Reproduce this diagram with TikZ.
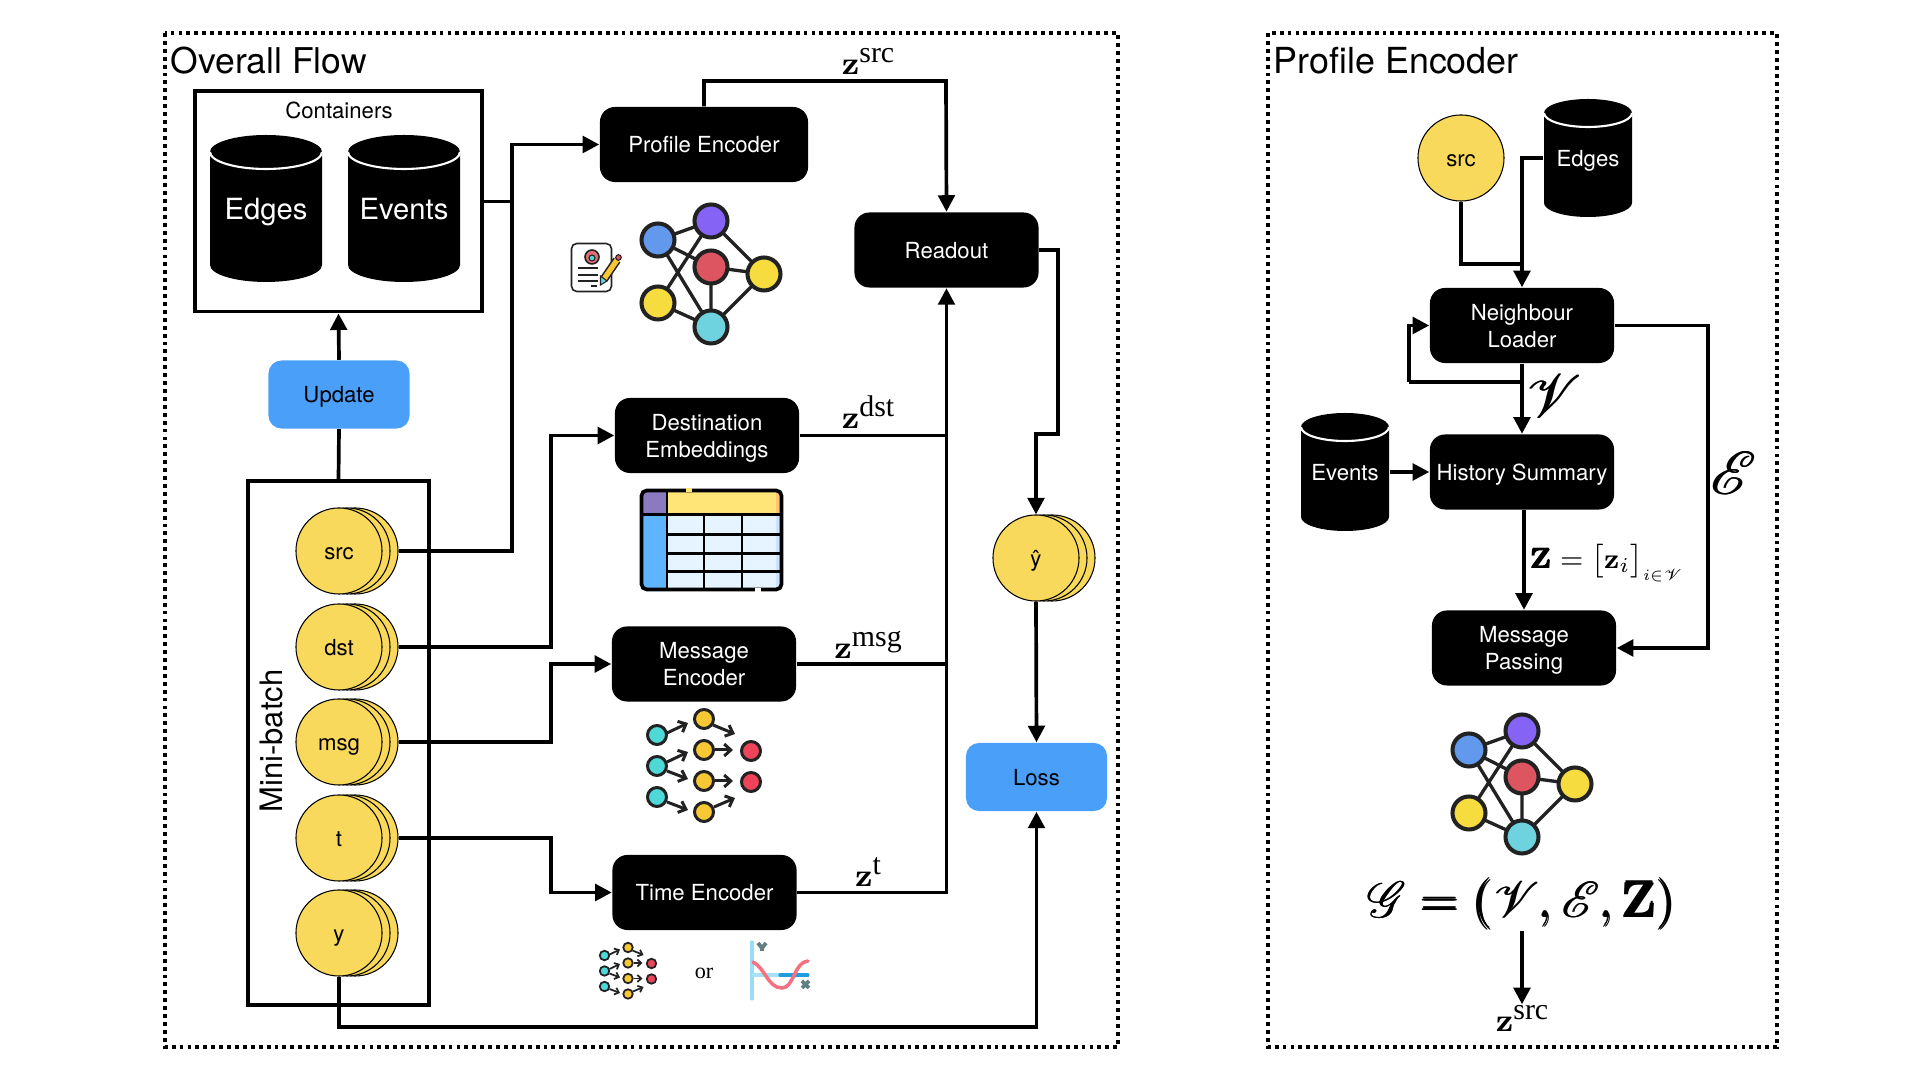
\documentclass[tikz,border=0pt]{standalone}
\usepackage[no-math]{fontspec}
\usepackage{amsmath}
\usepackage{mathrsfs}
\setmainfont{TeX Gyre Heros}
\newfontfamily\timesfont{Liberation Serif}
\usetikzlibrary{arrows.meta}

\definecolor{stackyellow}{HTML}{F9D95C}
\definecolor{panelblue}{HTML}{4A9FF8}
\definecolor{iconink}{HTML}{222222}
\definecolor{netblue}{HTML}{6399EC}
\definecolor{netpurple}{HTML}{8463F5}
\definecolor{netred}{HTML}{DD5560}
\definecolor{netyellow}{HTML}{F6DC3E}
\definecolor{netcyan}{HTML}{6FD3DF}
\definecolor{flowcyan}{HTML}{4FD8D8}
\definecolor{flowyellow}{HTML}{F7C833}
\definecolor{flowred}{HTML}{EE4358}
\definecolor{tablepurple}{HTML}{8A7BC0}
\definecolor{tableyellow}{HTML}{FFE477}
\definecolor{tableorange}{HTML}{FFC66B}
\definecolor{tableblue}{HTML}{5FB4FF}
\definecolor{tablecell}{HTML}{E6F4FF}
\definecolor{tableedge}{HTML}{CBE3FF}

\newcommand{\boxfont}{\fontsize{6.3}{7.7}\selectfont}
\newcommand{\zlabel}[1]{\scalebox{1.15}{$\mathbf{z}$}\raisebox{3.4pt}{\timesfont #1}}
\newcommand{\boldscr}[1]{\mathord{\rlap{$\mathscr{#1}$}\kern.22pt\mathscr{#1}}}

\tikzset{
    arr/.style={line width=1.05pt,-{Triangle[length=4.7pt,width=4.7pt]}},
    link/.style={line width=1.05pt},
    blackbox/.style={fill=black,text=white,rounded corners=.15cm,align=center,font=\boxfont,inner sep=0pt,text depth=0pt,minimum width=1.84cm,minimum height=.75cm},
    bluebox/.style={fill=panelblue,rounded corners=.13cm,font=\boxfont,inner sep=0pt,text depth=0pt,minimum width=1.41cm,minimum height=.68cm},
    tokencircle/.style={circle,draw=black,line width=.3pt,fill=stackyellow,font=\boxfont,inner sep=0pt,text height=4.8pt,text depth=0pt,minimum size=.86cm},
    dotbox/.style={line width=1pt,dash pattern=on 1.1pt off 1.15pt},
    mathlabel/.style={font=\fontsize{8.5}{10}\selectfont,inner sep=0pt},
    scriptlabel/.style={font=\fontsize{17}{20}\selectfont,inner sep=0pt},
    netIcon/.pic={
        \draw[iconink,line width=.95pt] (-53,27) -- (0,46) (-53,27) -- (0,0) (-53,27) -- (0,-60)
            (0,46) -- (-53,-36) (0,46) -- (53,-7) (0,0) -- (53,-7) (0,0) -- (0,-60)
            (-53,-36) -- (0,-60) (53,-7) -- (0,-60);
        \filldraw[draw=iconink,line width=1.15pt,fill=netblue] (-53,27) circle (16.5);
        \filldraw[draw=iconink,line width=1.15pt,fill=netpurple] (0,46) circle (16.5);
        \filldraw[draw=iconink,line width=1.15pt,fill=netred] (0,0) circle (16.5);
        \filldraw[draw=iconink,line width=1.15pt,fill=netyellow] (53,-7) circle (16.5);
        \filldraw[draw=iconink,line width=1.15pt,fill=netyellow] (-53,-36) circle (16.5);
        \filldraw[draw=iconink,line width=1.15pt,fill=netcyan] (0,-60) circle (16.5);
    },
    flowIcon/.pic={
        \foreach \py in {31,0,-31} \filldraw[draw=iconink,fill=flowcyan] (-47,\py) circle (9.5);
        \foreach \py in {47,16,-15,-46} \filldraw[draw=iconink,fill=flowyellow] (0,\py) circle (9.5);
        \foreach \py in {15,-16} \filldraw[draw=iconink,fill=flowred] (47,\py) circle (9.5);
        \draw[iconink,-{Straight Barb[length=0pt 2.2,width=0pt 4]}] (-37,33) -- (-16,43);
        \draw[iconink,-{Straight Barb[length=0pt 2.2,width=0pt 4]}] (-37,4) -- (-16,14);
        \draw[iconink,-{Straight Barb[length=0pt 2.2,width=0pt 4]}] (-37,-5) -- (-16,-13);
        \draw[iconink,-{Straight Barb[length=0pt 2.2,width=0pt 4]}] (-37,-36) -- (-16,-44);
        \draw[iconink,-{Straight Barb[length=0pt 2.2,width=0pt 4]}] (9,41) -- (31,32);
        \draw[iconink,-{Straight Barb[length=0pt 2.2,width=0pt 4]}] (11,16) -- (29,16);
        \draw[iconink,-{Straight Barb[length=0pt 2.2,width=0pt 4]}] (11,-15) -- (29,-15);
        \draw[iconink,-{Straight Barb[length=0pt 2.2,width=0pt 4]}] (10,-41) -- (31,-32);
    }
}

% name, centre x, top y, width, height, lid radius, label
\newcommand{\dbnode}[7]{
    \fill (#2-#4/2,-#3-#6) arc (180:0:#4/2 and #6) -- ++(0,{-#5+2*#6}) arc (0:-180:#4/2 and #6) -- cycle;
    \draw[white,line width=.6pt] (#2-#4/2,-#3-#6) arc (180:360:#4/2 and #6);
    \node[text=white,inner sep=0pt,text depth=0pt,minimum width=#4*.01cm,minimum height=#5*.01cm] (#1) at (#2,-#3-#5/2) {#7};
}
% name, centre x, centre y, label
\newcommand{\stacknode}[4]{
    \node[tokencircle] (#1b) at (#2+16,-#3) {};
    \node[tokencircle] (#1m) at (#2+8,-#3) {};
    \node[tokencircle] (#1) at (#2,-#3) {#4};
}

\begin{document}
\begin{tikzpicture}[x=.01cm,y=.01cm]
    \useasboundingbox (0,0) rectangle (1920,-1080);

    % outer frames
    \draw[dotbox] (165,-33) rectangle (1118,-1047);
    \draw[dotbox] (1268,-33) rectangle (1777,-1047);
    \node[anchor=west,inner sep=0pt,font=\fontsize{10.1}{12}\selectfont] (flowTitle) at (170,-61) {Overall Flow};
    \node[anchor=west,inner sep=0pt,font=\fontsize{10.2}{12}\selectfont] (profileTitle) at (1273,-61) {Profile Encoder};

    % containers
    \node[draw,line width=1.1pt,inner sep=0pt,minimum width=2.87cm,minimum height=2.2cm] (ctr) at (338.5,-201.5) {};
    \node[font=\boxfont,inner sep=0pt] (ctrLabel) at (339,-110) {Containers};
    \dbnode{edges}{266}{135}{112}{147}{17}{\fontsize{8.3}{10}\selectfont Edges}
    \dbnode{events}{404}{135}{112}{147}{17}{\fontsize{8.3}{10}\selectfont Events}

    % mini-batch
    \node[bluebox] (update) at (339,-394.5) {Update};
    \node[draw,line width=1.1pt,inner sep=0pt,minimum width=1.815cm,minimum height=5.23cm] (mb) at (338.5,-743) {};
    \node[rotate=90,inner sep=0pt,font=\fontsize{8.8}{10}\selectfont] (mbLabel) at (271,-741) {Mini-batch};
    \stacknode{src}{339}{551}{src}
    \stacknode{dst}{339}{647}{dst}
    \stacknode{msg}{339}{742}{msg}
    \stacknode{tt}{339}{838}{t}
    \stacknode{yy}{339}{933}{y}

    % encoders
    \node[blackbox,minimum width=2.08cm] (pe) at (704,-144.5) {Profile Encoder};
    \node[blackbox] (dest) at (707,-435.5) {Destination\\Embeddings};
    \node[blackbox] (me) at (704,-664) {Message\\Encoder};
    \node[blackbox] (te) at (704.5,-892.5) {Time Encoder};
    \node[blackbox] (ro) at (946.5,-250) {Readout};
    \stacknode{yhat}{1036}{558}{ŷ}
    \node[bluebox] (loss) at (1036.5,-777) {Loss};

    \coordinate (busA) at (512,-300);
    \coordinate (busB) at (551,-500);
    \coordinate (busC) at (551,-700);
    \coordinate (busD) at (551,-860);
    \coordinate (busY) at (700,-1027);
    \coordinate (busZ) at (946,-81);
    \coordinate (busH) at (1058,-434);
    \draw[arr] (srcb.east) -| (busA) |- (pe.west);
    \draw[link] (ctr.east) -- (ctr.east -| busA);
    \draw[arr] (update.north) -- (ctr.south);
    \draw[link] (mb.north) -- (update.south);
    \draw[arr] (dstb.east) -| (busB) |- (dest.west);
    \draw[arr] (msgb.east) -| (busC) |- (me.west);
    \draw[arr] (ttb.east) -| (busD) |- (te.west);
    \draw[arr] (yy.south) |- (busY) -| (loss.south);
    \draw[arr] (pe.north) |- (busZ) -- (ro.north);
    \draw[link] (dest.east) -- (dest.east -| ro.south);
    \draw[link] (me.east) -- (me.east -| ro.south);
    \draw[arr] (te.east) -| (ro.south);
    \draw[arr] (ro.east) -| (busH) -| (yhat.north);
    \draw[arr] (yhat.south) -- (loss.north);

    \node[mathlabel] (zsrcMain) at (868,-61) {\zlabel{src}};
    \node[mathlabel] (zdst) at (868,-412) {\zlabel{dst}};
    \node[mathlabel] (zmsg) at (868,-645) {\zlabel{msg}};
    \node[mathlabel] (zt) at (868,-872) {\zlabel{t}};

    % doc icon
    \filldraw[draw=iconink,fill=white,rounded corners=1.5,line width=.45pt] (571.5,-243.5) rectangle (611.5,-291.5);
    \filldraw[draw=iconink,fill=netred!85!white,line width=.45pt] (592,-257) circle (7);
    \filldraw[draw=iconink,fill=flowcyan,line width=.3pt] (592,-258) circle (3);
    \draw[iconink,line width=.4pt] (578,-268) -- (598,-268) (578,-275) -- (598,-275) (578,-281) -- (598,-281) (591,-286) -- (597,-286);
    \draw[iconink,line width=2.4pt] (604,-279) -- (617,-260);
    \draw[flowyellow,line width=1.5pt] (604,-279) -- (617,-260);
    \filldraw[draw=iconink,fill=netred,line width=.3pt] (618.5,-257.5) circle (2.8);
    \filldraw[draw=iconink,fill=netcyan,line width=.3pt] (600.5,-285) -- (600.5,-276) -- (607,-281) -- cycle;

    \pic at (711,-267) {netIcon};

    % table icon
    \fill[tablepurple] (641,-491) rectangle (667,-515);
    \fill[tableyellow] (667,-491) rectangle (781,-515);
    \fill[tableorange] (776,-491) rectangle (781,-515);
    \fill[tableblue] (641,-515) rectangle (667,-589);
    \fill[tablecell] (667,-515) rectangle (781,-589);
    \fill[tableedge] (776,-515) rectangle (781,-589);
    \draw[black,line width=1.05pt,rounded corners=1.5] (641.5,-490.5) rectangle (781.5,-589.5);
    \draw[black,line width=.85pt] (641,-515) -- (781,-515) (667,-490) -- (667,-590)
        (704,-515) -- (704,-590) (742,-515) -- (742,-590)
        (667,-535) -- (781,-535) (667,-553.5) -- (781,-553.5) (667,-572) -- (781,-572);
    \fill[tableyellow] (686,-488) rectangle (692,-492);
    \fill[white] (755,-588) rectangle (761,-592);

    \pic[line width=.85pt] at (704,-766) {flowIcon};
    \pic[scale=.5,line width=.5pt] at (628,-971) {flowIcon};
    \node[inner sep=0pt,font=\fontsize{6.3}{8}\timesfont] (orLabel) at (704,-973) {or};

    % chart icon
    \draw[cyan!40!white,line width=.9pt,line cap=round] (752,-942) -- (752,-999);
    \draw[cyan!35!white,line width=.9pt] (752,-975) -- (780,-975);
    \draw[cyan!80!blue!90!white,line width=.9pt,line cap=round] (780,-975) -- (808,-975);
    \draw[flowred!75!white,line width=1pt,line cap=round] (753,-962) .. controls (765,-968) and (768,-988) .. (782,-988) .. controls (794,-988) and (794,-962) .. (808,-961);
    \draw[gray!75!teal,line width=1.1pt] (758,-943) -- (762,-948) -- (766,-943) (762,-948) -- (762,-951);
    \draw[gray!75!teal,line width=1.1pt] (802,-981) -- (809,-988) (809,-981) -- (802,-988);

    % profile encoder side
    \node[tokencircle] (srcP) at (1461,-158) {src};
    \dbnode{edgesP}{1588}{99}{88}{118}{14}{\boxfont Edges}
    \dbnode{eventsP}{1345}{413}{88}{118}{14}{\boxfont Events}
    \node[blackbox] (nl) at (1522,-325.5) {Neighbour\\Loader};
    \node[blackbox] (hs) at (1522,-472) {History Summary};
    \node[blackbox] (mp) at (1524,-648) {Message\\Passing};

    \coordinate (busE) at (1522,-264);
    \coordinate (busL) at (1409,-382);
    \coordinate (busR) at (1708,-500);
    \draw[link] (srcP.south) |- (busE);
    \draw[arr] (edgesP.west) -| (nl.north);
    \draw[arr] (nl.south) -- (hs.north);
    \draw[link] (nl.south |- busL) -- (busL);
    \draw[arr] (busL) |- (nl.west);
    \draw[arr] (eventsP.east) -- (hs.west);
    \draw[arr] (hs.south -| mp.north) -- (mp.north);
    \draw[arr] (nl.east) -| (busR) |- (mp.east);

    \node[scriptlabel] (vLabel) at (1554,-396) {$\boldscr{V}$};
    \node[scriptlabel] (eLabel) at (1734,-473) {$\boldscr{E}$};
    \node[mathlabel,anchor=west] (zEq) at (1530,-563) {$\pmb{\mathbf{Z}}=\bigl[\mathbf{z}_i\bigr]_{\scalebox{.75}{$\scriptstyle i\in\mathscr{V}$}}$};

    \pic at (1522,-777) {netIcon};
    \node[inner sep=0pt,font=\fontsize{14.2}{16}\selectfont] (gEq) at (1522,-904) {$\boldscr{G}\mathrel{\pmb{=}}\mathopen{\pmb{(}}\boldscr{V}\mathpunct{\pmb{,}}\boldscr{E}\mathpunct{\pmb{,}}\pmb{\mathbf{Z}}\mathclose{\pmb{)}}$};
    \node[mathlabel] (zsrcOut) at (1522,-1018) {\zlabel{src}};
    \draw[arr] (gEq.south) -- (zsrcOut.north);
\end{tikzpicture}
\end{document}
